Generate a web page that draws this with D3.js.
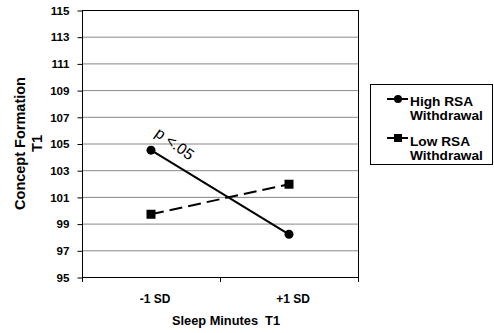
<!DOCTYPE html>
<html>
<head>
<meta charset="utf-8">
<script src="https://cdn.jsdelivr.net/npm/d3@7"></script>
<style>
  body { margin: 0; background: #fff; }
  svg text { font-family: Arial, "Liberation Sans", sans-serif; }
</style>
</head>
<body>
<div id="chart"></div>
<script>
// categories along the x axis
var categories = ['-1 SD', '+1 SD'];
// series values
var highRSA = [104.5, 98.2];
var lowRSA = [99.7, 101.95];
var yTicks = [95, 97, 99, 101, 103, 105, 107, 109, 111, 113, 115];
var seriesNames = ['High RSA|Withdrawal', 'Low RSA|Withdrawal'];

var width = 494, height = 333;
var plot = { left: 82, right: 358, top: 10, bottom: 277 };

var svg = d3.select('#chart').append('svg')
    .attr('width', width)
    .attr('height', height);

var x = d3.scaleBand()
    .domain(categories)
    .range([plot.left, plot.right]);

var y = d3.scaleLinear()
    .domain([95, 115])
    .range([plot.bottom, plot.top]);

// gridlines
svg.append('g').selectAll('line')
    .data(yTicks.slice(1))
    .enter().append('line')
    .attr('x1', plot.left)
    .attr('x2', plot.right)
    .attr('y1', (d) => { return y(d) + 0.5; })
    .attr('y2', (d) => { return y(d) + 0.5; })
    .attr('stroke', (d) => { return d === 115 ? '#000' : '#888'; })
    .attr('stroke-width', 1);

// right border
svg.append('line')
    .attr('x1', plot.right + 0.5).attr('x2', plot.right + 0.5)
    .attr('y1', plot.top).attr('y2', plot.bottom + 1)
    .attr('stroke', '#000');

// y axis
var yAxis = svg.append('g')
    .attr('transform', 'translate(' + (plot.left + 0.5) + ',0.5)')
    .call(d3.axisLeft(y).tickValues(yTicks).tickSize(5).tickPadding(8).tickFormat(d3.format('d')));
yAxis.select('.domain').attr('d', 'M0,' + plot.top + 'V' + plot.bottom);
yAxis.selectAll('text')
    .attr('font-size', '11.6px').attr('font-weight', 'bold').attr('fill', '#000')
    .attr('font-family', 'Arial, "Liberation Sans", sans-serif');

// x axis
var xAxis = svg.append('g')
    .attr('transform', 'translate(0,' + (plot.bottom + 0.5) + ')')
    .call(d3.axisBottom(x).tickSize(0).tickPadding(17));
xAxis.select('.domain').attr('d', 'M' + plot.left + ',0H' + (plot.right + 1));
xAxis.selectAll('text')
    .attr('dx', 4)
    .attr('font-size', '12px').attr('font-weight', 'bold').attr('fill', '#000')
    .attr('font-family', 'Arial, "Liberation Sans", sans-serif');
// category boundary ticks
svg.append('g').selectAll('line')
    .data([plot.left, (plot.left + plot.right) / 2, plot.right])
    .enter().append('line')
    .attr('x1', (d) => { return Math.round(d) + 0.5; })
    .attr('x2', (d) => { return Math.round(d) + 0.5; })
    .attr('y1', plot.bottom)
    .attr('y2', plot.bottom + 5)
    .attr('stroke', '#000');

// axis titles
svg.append('text')
    .attr('x', 226)
    .attr('y', 325)
    .attr('text-anchor', 'middle')
    .attr('font-size', '12.8px').attr('font-weight', 'bold')
    .attr('xml:space', 'preserve')
    .text('Sleep Minutes  T1');

var yTitle = svg.append('text')
    .attr('transform', 'translate(25,143.5) rotate(-90)')
    .attr('text-anchor', 'middle')
    .attr('font-size', '14.5px').attr('font-weight', 'bold');
yTitle.append('tspan').attr('x', 0).attr('y', 0).text('Concept Formation');
yTitle.append('tspan').attr('x', 0).attr('y', 17).text('T1');

var cx = (d, i) => { return x(categories[i]) + x.bandwidth() / 2; };
var line = d3.line()
    .x((d, i) => { return cx(d, i); })
    .y((d) => { return y(d); });

// high RSA withdrawal: solid line with circles
svg.append('path')
    .datum(highRSA)
    .attr('d', line)
    .attr('fill', 'none')
    .attr('stroke', '#000')
    .attr('stroke-width', 2);
svg.append('g').selectAll('circle')
    .data(highRSA).enter().append('circle')
    .attr('cx', cx)
    .attr('cy', (d) => { return y(d); })
    .attr('r', 4.5)
    .attr('fill', '#000');

// low RSA withdrawal: dashed line with squares
svg.append('path')
    .datum(lowRSA)
    .attr('d', line)
    .attr('fill', 'none')
    .attr('stroke', '#000')
    .attr('stroke-width', 2)
    .attr('stroke-dasharray', '13,6');
svg.append('g').selectAll('rect')
    .data(lowRSA).enter().append('rect')
    .attr('x', (d, i) => { return cx(d, i) - 4.5; })
    .attr('y', (d) => { return y(d) - 4.5; })
    .attr('width', 9)
    .attr('height', 9)
    .attr('fill', '#000');

// significance annotation
svg.append('text')
    .attr('transform', 'translate(' + (cx(0, 0) + 3) + ',' + (y(highRSA[0]) - 15) + ') rotate(36)')
    .attr('font-size', '15.5px')
    .attr('xml:space', 'preserve')
    .text('p <.05');

// legend
var legend = svg.append('g');
legend.append('rect')
    .attr('x', 370.5).attr('y', 84.5)
    .attr('width', 122).attr('height', 80)
    .attr('fill', '#fff').attr('stroke', '#000');

var legendRows = [
    { name: seriesNames[0], y: 99, shape: 'circle', textY: 106 },
    { name: seriesNames[1], y: 138, shape: 'rect', textY: 146 }
];
legendRows.forEach((r) => {
    legend.append('line')
        .attr('x1', 387).attr('x2', 408)
        .attr('y1', r.y).attr('y2', r.y)
        .attr('stroke', '#000').attr('stroke-width', 2);
    if (r.shape === 'circle') {
        legend.append('circle').attr('cx', 398).attr('cy', r.y).attr('r', 4).attr('fill', '#000');
    } else {
        legend.append('rect').attr('x', 394).attr('y', r.y - 4).attr('width', 8).attr('height', 8).attr('fill', '#000');
    }
    var t = legend.append('text')
        .attr('font-size', '13.7px').attr('font-weight', 'bold');
    r.name.split('|').forEach((s, i) => {
        t.append('tspan').attr('x', 410).attr('y', r.textY + i * 14).text(s);
    });
});
</script>
</body>
</html>
